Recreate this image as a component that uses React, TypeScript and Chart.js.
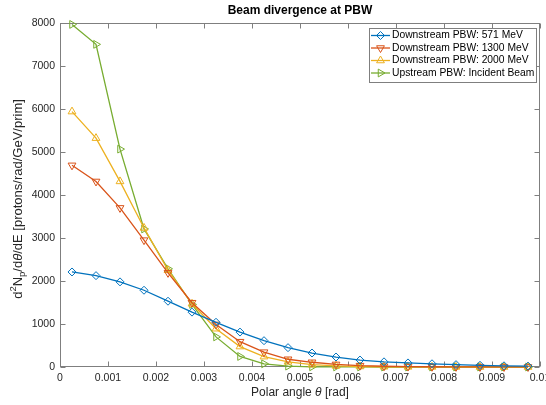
import React, { useEffect, useRef } from 'react';
import { Chart, registerables } from 'chart.js';
import { drawPoint } from 'chart.js/helpers';

Chart.register(...registerables);

// ---- data ----
const theta = [
  0.00025, 0.00075, 0.00125, 0.00175, 0.00225, 0.00275, 0.00325, 0.00375, 0.00425, 0.00475,
  0.00525, 0.00575, 0.00625, 0.00675, 0.00725, 0.00775, 0.00825, 0.00875, 0.00925, 0.00975,
];
const down571 = [2210, 2125, 1980, 1785, 1530, 1276, 1040, 812, 612, 450, 325, 232, 162, 120, 95, 75, 55, 40, 28, 20];
const down1300 = [4690, 4315, 3700, 2950, 2190, 1495, 990, 589, 345, 180, 110, 60, 32, 18, 10, 6, 4, 2, 1, 1];
const down2000 = [5940, 5322, 4316, 3234, 2250, 1470, 890, 475, 241, 120, 55, 25, 12, 6, 3, 2, 1, 0, 0, 0];
const upstream = [7967, 7503, 5067, 3211, 2285, 1455, 700, 245, 75, 20, 5, 2, 1, 0, 0, 0, 0, 0, 0, 0];

const seriesLabels = [
  'Downstream PBW: 571 MeV',
  'Downstream PBW: 1300 MeV',
  'Downstream PBW: 2000 MeV',
  'Upstream PBW: Incident Beam',
];
const titleText = 'Beam divergence at PBW';
const xMin = 0;
const xMax = 0.01;
const xStep = 0.001;
const yMin = 0;
const yMax = 8000;
const yStep = 1000;

const FONT = '"Liberation Sans", Arial, Helvetica, sans-serif';
const TEXT = '#262626';
const AXIS = '#7f7f7f';

const styles = [
  { color: '#0072BD', pointStyle: 'rectRot', rotation: 0, radius: 4 },
  { color: '#D95319', pointStyle: 'triangle', rotation: 180, radius: 4.5 },
  { color: '#EDB120', pointStyle: 'triangle', rotation: 0, radius: 4.5 },
  { color: '#77AC30', pointStyle: 'triangle', rotation: 90, radius: 4.5 },
];

type Part = { t: string; size: number; italic?: boolean; bold?: boolean; dy?: number };

function drawRich(ctx: CanvasRenderingContext2D, parts: Part[], x: number, y: number, rot: number, color: string) {
  ctx.save();
  ctx.translate(x, y);
  ctx.rotate(rot);
  ctx.fillStyle = color;
  ctx.textBaseline = 'middle';
  ctx.textAlign = 'left';
  const fontOf = (p: Part) => `${p.italic ? 'italic ' : ''}${p.bold ? 'bold ' : ''}${p.size}px ${FONT}`;
  let total = 0;
  for (const p of parts) {
    ctx.font = fontOf(p);
    total += ctx.measureText(p.t).width;
  }
  let cx = -total / 2;
  for (const p of parts) {
    ctx.font = fontOf(p);
    ctx.fillText(p.t, cx, p.dy || 0);
    cx += ctx.measureText(p.t).width;
  }
  ctx.restore();
}

const axesPlugin = {
  id: 'matlabAxes',
  beforeDatasetsDraw(chart: any) {
    const { ctx, chartArea: a, scales } = chart;
    const L = Math.round(a.left) + 0.5;
    const R = Math.round(a.right) - 0.5;
    const T = Math.round(a.top) + 0.5;
    const B = Math.round(a.bottom) - 0.5;
    ctx.save();
    ctx.strokeStyle = AXIS;
    ctx.lineWidth = 1;
    ctx.strokeRect(L, T, R - L, B - T);
    const tl = 5;
    ctx.beginPath();
    for (const t of scales.x.ticks) {
      const px = Math.round(scales.x.getPixelForValue(t.value)) + 0.5;
      ctx.moveTo(px, B); ctx.lineTo(px, B - tl);
      ctx.moveTo(px, T); ctx.lineTo(px, T + tl);
    }
    for (const t of scales.y.ticks) {
      const py = Math.round(scales.y.getPixelForValue(t.value)) + 0.5;
      ctx.moveTo(L, py); ctx.lineTo(L + tl, py);
      ctx.moveTo(R, py); ctx.lineTo(R - tl, py);
    }
    ctx.stroke();
    ctx.restore();
  },
  afterDatasetsDraw(chart: any) {
    const { ctx, chartArea: a } = chart;
    // title
    drawRich(ctx, [{ t: titleText, size: 12, bold: true }], (a.left + a.right) / 2, 10.5, 0, '#000');
    // x label
    drawRich(
      ctx,
      [
        { t: 'Polar angle ', size: 12 },
        { t: 'θ', size: 12, italic: true },
        { t: ' [rad]', size: 12 },
      ],
      (a.left + a.right) / 2,
      393,
      0,
      TEXT,
    );
    // y label
    drawRich(
      ctx,
      [
        { t: 'd', size: 13 },
        { t: '2', size: 9.5, dy: -5 },
        { t: 'N', size: 13 },
        { t: 'p', size: 9.5, dy: 4 },
        { t: '/d', size: 13 },
        { t: 'θ', size: 13, italic: true },
        { t: '/dE [protons/rad/GeV/prim]', size: 13 },
      ],
      18,
      (a.top + a.bottom) / 2 + 4,
      -Math.PI / 2,
      TEXT,
    );
    // legend
    const bx = 369.5, by = 28.5, bw = 167, bh = 54;
    ctx.save();
    ctx.fillStyle = '#ffffff';
    ctx.fillRect(bx, by, bw, bh);
    ctx.strokeStyle = AXIS;
    ctx.lineWidth = 1;
    ctx.strokeRect(bx, by, bw, bh);
    const rowY = [35.5, 48, 60.5, 73];
    seriesLabels.forEach((lab, i) => {
      const s = styles[i];
      const y = rowY[i];
      ctx.strokeStyle = s.color;
      ctx.lineWidth = 1.3;
      ctx.beginPath();
      ctx.moveTo(371, y);
      ctx.lineTo(390, y);
      ctx.stroke();
      ctx.fillStyle = 'rgba(0,0,0,0)';
      ctx.lineWidth = 1;
      drawPoint(ctx, { pointStyle: s.pointStyle, rotation: s.rotation, radius: s.radius, borderWidth: 1 } as any, 380.5, y);
      ctx.fillStyle = '#000';
      ctx.font = `10.3px ${FONT}`;
      ctx.textBaseline = 'middle';
      ctx.textAlign = 'left';
      ctx.fillText(lab, 392, y);
    });
    ctx.restore();
  },
};

function fmtX(v: number) {
  return String(Number(v.toFixed(4)));
}

export default function App() {
  const ref = useRef<HTMLCanvasElement | null>(null);
  useEffect(() => {
    if (!ref.current) return;
    const series = [down571, down1300, down2000, upstream];
    const chart = new Chart(ref.current, {
      type: 'line',
      data: {
        datasets: series.map((vals, i) => ({
          label: seriesLabels[i],
          data: vals.map((v, j) => ({ x: theta[j], y: v })),
          borderColor: styles[i].color,
          backgroundColor: 'rgba(0,0,0,0)',
          borderWidth: 1.3,
          pointStyle: styles[i].pointStyle as any,
          rotation: styles[i].rotation,
          pointRadius: styles[i].radius,
          pointBorderWidth: 1,
          pointBorderColor: styles[i].color,
          pointBackgroundColor: 'rgba(0,0,0,0)',
          tension: 0,
          fill: false,
          clip: false as any,
        })),
      },
      options: {
        animation: false,
        responsive: false,
        devicePixelRatio: 1,
        layout: { padding: { top: 23, right: 6, bottom: 0, left: 0 } },
        plugins: {
          legend: { display: false },
          title: { display: false },
          tooltip: { enabled: false },
        },
        scales: {
          x: {
            type: 'linear',
            min: xMin,
            max: xMax,
            grid: { display: false, drawTicks: false },
            border: { display: false },
            ticks: {
              stepSize: xStep,
              padding: 5,
              color: TEXT,
              font: { family: FONT, size: 10.5 },
              maxRotation: 0,
              autoSkip: false,
              callback: (v: any) => fmtX(Number(v)),
            },
            afterFit: (s: any) => {
              s.height = 38;
              s.paddingLeft = 0;
              s.paddingRight = 0;
            },
          },
          y: {
            type: 'linear',
            min: yMin,
            max: yMax,
            grid: { display: false, drawTicks: false },
            border: { display: false },
            ticks: {
              stepSize: yStep,
              padding: 5,
              color: TEXT,
              font: { family: FONT, size: 10.5 },
              callback: (v: any) => String(v),
            },
            afterFit: (s: any) => {
              s.width = 60;
              s.paddingTop = 0;
              s.paddingBottom = 0;
            },
          },
        },
      },
      plugins: [axesPlugin],
    });
    return () => chart.destroy();
  }, []);
  return (
    <div style={{ position: 'fixed', left: 0, top: 0, width: 546, height: 405, overflow: 'hidden', background: '#fff' }}>
      <canvas ref={ref} width={546} height={405} style={{ display: 'block' }} />
    </div>
  );
}
